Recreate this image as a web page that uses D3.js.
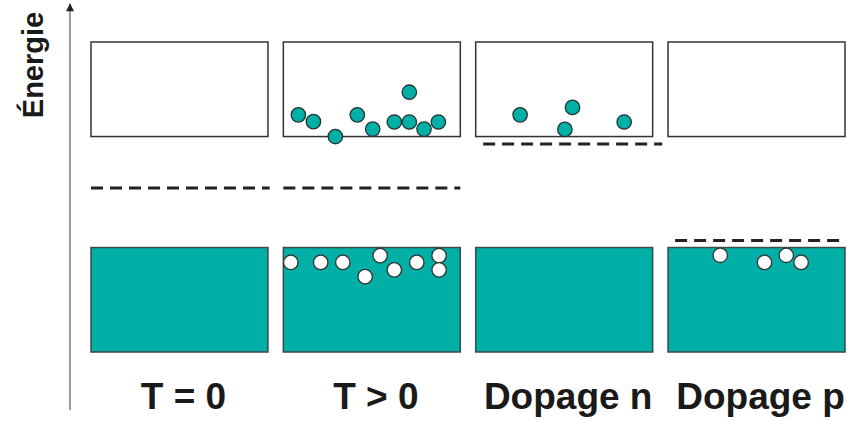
<!DOCTYPE html>
<html>
<head>
<meta charset="utf-8">
<script src="https://cdn.jsdelivr.net/npm/d3@7"></script>
<style>
  body { margin: 0; background: #fff; }
  svg { display: block; font-family: "Liberation Sans", Arial, sans-serif; }
</style>
</head>
<body>
<div id="chart"></div>
<script>
// Panels (one per situation)
const panels = ["T = 0", "T > 0", "Dopage n", "Dopage p"];

// Energy bands (arbitrary energy units)
const valenceBand = [0, 3.37];
const conductionBand = [6.95, 10];

// Fermi level per panel: energy, and start / end along panel (% of width)
const fermiLevel = [5.29, 5.29, 6.71, 3.6];
const fermiStart = [0, 0, 4.2, 4];
const fermiEnd = [101, 100, 105.4, 98.4];

// Electrons in conduction band: [panel, position %, energy]
const electrons = [
  [1, 8.5, 7.65], [1, 17, 7.43], [1, 29.4, 6.95], [1, 41.8, 7.65], [1, 50.5, 7.19],
  [1, 62.7, 7.42], [1, 71.2, 7.42], [1, 71.2, 8.38], [1, 79.5, 7.19], [1, 87.6, 7.42],
  [2, 25.1, 7.65], [2, 54.7, 7.89], [2, 50.4, 7.18], [2, 83.9, 7.42]
];

// Holes in valence band: [panel, position %, energy]
const holes = [
  [1, 4.2, 2.89], [1, 21.1, 2.89], [1, 33.6, 2.89], [1, 54.7, 3.11], [1, 46.2, 2.43],
  [1, 62.7, 2.65], [1, 75.4, 2.89], [1, 88, 3.11], [1, 88, 2.65],
  [3, 29.5, 3.12], [3, 54.5, 2.89], [3, 66.8, 3.12], [3, 75.2, 2.89]
];

const W = 850, H = 421;
const teal = "#00b0a6";
const svg = d3.select("#chart").append("svg").attr("width", W).attr("height", H);

const x = d3.scaleBand().domain(panels).range([91, 845]).paddingInner(0.08);
const y = d3.scaleLinear().domain([0, 10]).range([352, 42]);
const pos = d3.scaleLinear().domain([0, 100]).range([0, x.bandwidth()]);

// energy axis with arrow
svg.append("defs").append("marker")
  .attr("id", "arrow").attr("viewBox", "0 0 10 10")
  .attr("refX", 9).attr("refY", 5)
  .attr("markerWidth", 10).attr("markerHeight", 8)
  .attr("markerUnits", "userSpaceOnUse")
  .attr("orient", "auto")
  .append("path").attr("d", "M0,0L10,5L0,10Z").attr("fill", "#222");

svg.append("line")
  .attr("x1", 70).attr("x2", 70).attr("y1", 410).attr("y2", 4)
  .attr("stroke", "#666").attr("stroke-width", 1.3)
  .attr("marker-end", "url(#arrow)");

svg.append("text")
  .attr("transform", "translate(43,65) rotate(-90)")
  .attr("text-anchor", "middle")
  .attr("font-weight", "bold").attr("font-size", 29)
  .attr("fill", "#1a1a1a")
  .text("Énergie");

const g = svg.selectAll(".panel").data(panels).enter().append("g")
  .attr("class", "panel")
  .attr("transform", d => `translate(${x(d)},0)`);

// conduction band (empty)
g.append("rect")
  .attr("x", 0).attr("width", x.bandwidth())
  .attr("y", y(conductionBand[1]))
  .attr("height", y(conductionBand[0]) - y(conductionBand[1]))
  .attr("fill", "#fff").attr("stroke", "#333").attr("stroke-width", 1.5);

// valence band (filled)
g.append("rect")
  .attr("x", 0).attr("width", x.bandwidth())
  .attr("y", y(valenceBand[1]))
  .attr("height", y(valenceBand[0]) - y(valenceBand[1]))
  .attr("fill", teal).attr("stroke", "#3a4a4a").attr("stroke-width", 1.5);

// Fermi levels
g.append("line")
  .attr("x1", (d, i) => pos(fermiStart[i]))
  .attr("x2", (d, i) => pos(fermiEnd[i]))
  .attr("y1", (d, i) => y(fermiLevel[i]))
  .attr("y2", (d, i) => y(fermiLevel[i]))
  .attr("stroke", "#222").attr("stroke-width", 3)
  .attr("stroke-dasharray", "12,7");

// labels
g.append("text")
  .attr("x", x.bandwidth() / 2 + 4).attr("y", 409)
  .attr("text-anchor", "middle")
  .attr("font-weight", "bold").attr("font-size", 37)
  .attr("fill", "#1a1a1a")
  .text(d => d);

// electrons
svg.selectAll(".electron").data(electrons).enter().append("circle")
  .attr("class", "electron")
  .attr("cx", d => x(panels[d[0]]) + pos(d[1]))
  .attr("cy", d => y(d[2]))
  .attr("r", 7.2)
  .attr("fill", teal).attr("stroke", "#233").attr("stroke-width", 1.3);

// holes
svg.selectAll(".hole").data(holes).enter().append("circle")
  .attr("class", "hole")
  .attr("cx", d => x(panels[d[0]]) + pos(d[1]))
  .attr("cy", d => y(d[2]))
  .attr("r", 7.2)
  .attr("fill", "#fff").attr("stroke", "#333").attr("stroke-width", 1.3);
</script>
</body>
</html>
